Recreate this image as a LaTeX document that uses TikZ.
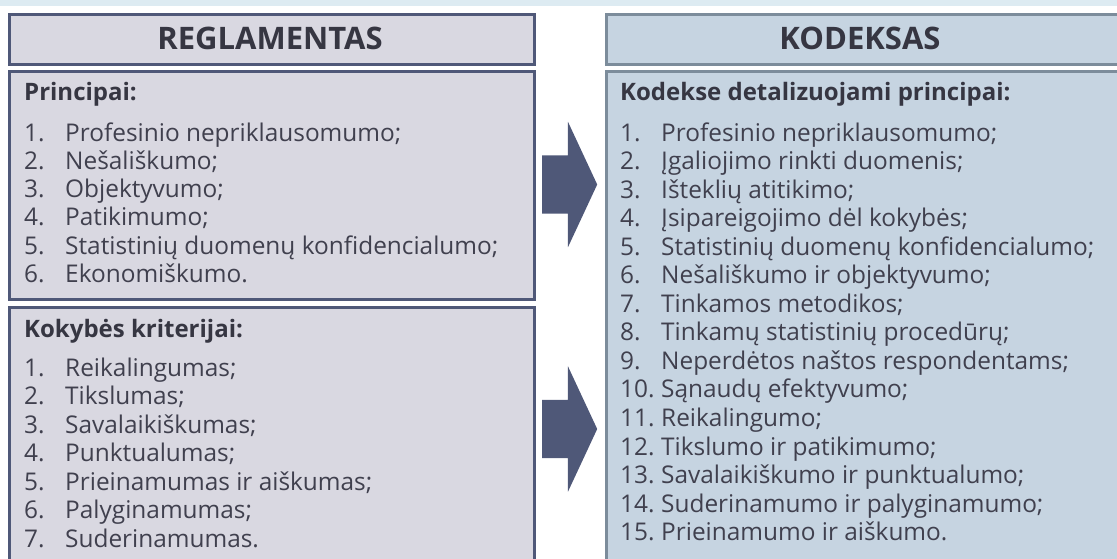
\documentclass[tikz,border=0pt]{standalone}
\usepackage{fontspec}
\setmainfont{Open Sans}
\usetikzlibrary{shapes.arrows}

\definecolor{lgray}{HTML}{D9D8E1}
\definecolor{lborder}{HTML}{4F5878}
\definecolor{rblue}{HTML}{C6D4E1}
\definecolor{rborder}{HTML}{7C8C9B}
\definecolor{txt}{HTML}{40404E}
\definecolor{strip}{HTML}{DDEBF2}

\newcommand\hdrfont{\fontsize{31}{35}\bfseries\selectfont}
\newcommand\subfont{\fontsize{24}{28}\bfseries\selectfont}
\newcommand\itemfont{\fontsize{24.4}{28}\selectfont}

\tikzset{
  leftbox/.style={draw=lborder, fill=lgray, line width=3pt, anchor=north west, inner sep=0pt},
  rightbox/.style={draw=rborder, fill=rblue, line width=3pt, anchor=north west, inner sep=0pt},
  hdr/.style={anchor=base, inner sep=0pt, font=\hdrfont, text=txt!85!black},
  sub/.style={anchor=base west, inner sep=0pt, font=\subfont, text=txt!85!black},
  item/.style={anchor=base west, inner sep=0pt, font=\itemfont, text=txt},
  blockarrow/.style={single arrow, fill=lborder, draw=none, inner xsep=0pt, inner ysep=29pt,
    minimum height=55pt, single arrow head extend=33.5pt,
    single arrow tip angle=130, anchor=tail}
}

\begin{document}
\begin{tikzpicture}[x=1pt, y=-1pt]
    \useasboundingbox (0,0) rectangle (1117,558);
    \clip (0,0) rectangle (1117,558);
    \fill[strip] (0,0) rectangle (1117,6);

    % boxes
    \node[leftbox, minimum width=525pt, minimum height=50pt] (reg) at (8,13) {};
    \node[leftbox, minimum width=525pt, minimum height=228pt] (princ) at (8,70) {};
    \node[leftbox, minimum width=525pt, minimum height=270pt] (krit) at (8,306) {};
    \node[rightbox, minimum width=515pt, minimum height=50pt] (kod) at (605,13) {};
    \node[rightbox, minimum width=515pt, minimum height=500pt] (det) at (605,70) {};

    \node[hdr] (regt) at (270,49) {REGLAMENTAS};
    \node[hdr] (kodt) at (860,49) {KODEKSAS};

    % arrows
    \node[blockarrow] (arr1) at (542,184.5) {};
    \node[blockarrow] (arr2) at (542,429) {};

    % Principai
    \node[sub] (princt) at (24,100) {Principai:};
    \foreach \t [count=\i] in {Profesinio nepriklausomumo;, Nešališkumo;, Objektyvumo;,
        Patikimumo;, Statistinių duomenų konfidencialumo;, Ekonomiškumo.} {
        \node[item] (pn\i) at (24,{141+28.3*(\i-1)}) {\i.};
        \node[item] (pt\i) at (65,{141+28.3*(\i-1)}) {\t};
    }

    % Kokybes kriterijai
    \node[sub] (kritt) at (24,337) {Kokybės kriterijai:};
    \foreach \t [count=\i] in {Reikalingumas;, Tikslumas;, Savalaikiškumas;, Punktualumas;,
        Prieinamumas ir aiškumas;, Palyginamumas;, Suderinamumas.} {
        \node[item] (kn\i) at (24,{376+28.5*(\i-1)}) {\i.};
        \node[item] (kt\i) at (65,{376+28.5*(\i-1)}) {\t};
    }

    % Kodekse detalizuojami principai
    \node[sub] (dett) at (620,100) {Kodekse detalizuojami principai:};
    \foreach \t [count=\i] in {Profesinio nepriklausomumo;, Įgaliojimo rinkti duomenis;,
        Išteklių atitikimo;, Įsipareigojimo dėl kokybės;, Statistinių duomenų konfidencialumo;,
        Nešališkumo ir objektyvumo;, Tinkamos metodikos;, Tinkamų statistinių procedūrų;,
        Neperdėtos naštos respondentams;, Sąnaudų efektyvumo;, Reikalingumo;,
        Tikslumo ir patikimumo;, Savalaikiškumo ir punktualumo;,
        Suderinamumo ir palyginamumo;, Prieinamumo ir aiškumo.} {
        \node[item] (dn\i) at (620,{141+28.55*(\i-1)}) {\i.};
        \node[item] (dt\i) at (661,{141+28.55*(\i-1)}) {\t};
    }
\end{tikzpicture}
\end{document}
